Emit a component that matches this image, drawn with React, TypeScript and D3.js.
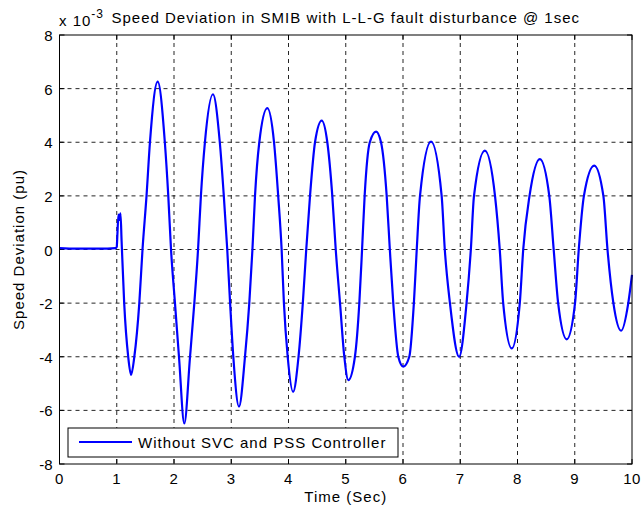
import React from "react";
import * as d3 from "d3";

const xTicks = [0, 1, 2, 3, 4, 5, 6, 7, 8, 9, 10];
const yTicks = [-8, -6, -4, -2, 0, 2, 4, 6, 8];

const timeSec = [
  0, 0.3, 0.7, 0.98, 1.0, 1.01, 1.03, 1.05, 1.065, 1.085, 1.13, 1.2, 1.25, 1.307, 1.394, 1.45,
  1.52, 1.58, 1.715, 1.84, 1.9, 1.948,
  2.017, 2.087, 2.18, 2.28, 2.355, 2.42,
  2.47, 2.54, 2.68, 2.8, 2.87, 2.93,
  2.98, 3.036, 3.135, 3.24, 3.315, 3.37,
  3.415, 3.49, 3.63, 3.747, 3.82, 3.88,
  3.92, 3.986, 4.08, 4.175, 4.25, 4.31,
  4.376, 4.463, 4.58, 4.678, 4.765, 4.825,
  4.9, 4.975, 5.045, 5.16, 5.237, 5.285,
  5.33, 5.42, 5.53, 5.616, 5.715, 5.77,
  5.83, 5.918, 6.005, 6.11, 6.19, 6.24,
  6.297, 6.49, 6.675, 6.73,
  6.82, 6.98, 7.11, 7.185,
  7.24, 7.43, 7.607, 7.69,
  7.75, 7.9, 8.04, 8.1,
  8.21, 8.39, 8.555, 8.632,
  8.71, 8.86, 9.005, 9.07,
  9.16, 9.34, 9.5, 9.572,
  9.675, 9.81, 9.935, 10,
];

const speedDev = [
  0.05, 0.03, 0.03, 0.05, 0.1, 0.5, 1.3, 1.1, 1.35, 0.3, -2, -4, -4.68, -4, -2, 0,
  2, 4, 6.26, 4, 2, 0,
  -2, -4, -6.49, -4, -2, 0,
  2, 4, 5.79, 4, 2, 0,
  -2, -4, -5.86, -4, -2, 0,
  2, 4, 5.27, 4, 2, 0,
  -2, -4, -5.31, -4, -2, 0,
  2, 4, 4.81, 4, 2, 0,
  -2, -4, -4.87, -4, -2, 0,
  2, 4, 4.4, 4, 2, 0,
  -2, -4, -4.37, -4, -2, 0,
  2, 4.02, 2, 0,
  -2, -4.0, -2, 0,
  2, 3.69, 2, 0,
  -2, -3.69, -2, 0,
  2, 3.37, 2, 0,
  -2, -3.35, -2, 0,
  2, 3.13, 2, 0,
  -2, -3.03, -2, -0.95,
];

const titleText = "Speed Deviation in SMIB with L-L-G fault disturbance @ 1sec";
const xLabel = "Time (Sec)";
const yLabel = "Speed Deviation (pu)";
const legendLabel = "Without SVC and PSS Controller";

export default function App() {
  const W = 641, H = 514;
  const left = 59.5, right = 632, top = 35, bottom = 464;
  const x = d3.scaleLinear().domain([0, 10]).range([left, right]);
  const y = d3.scaleLinear().domain([-8, 8]).range([bottom, top]);
  const pts: [number, number][] = timeSec.map((t, i) => [t, speedDev[i]]);
  const line = d3
    .line<[number, number]>()
    .x((d) => x(d[0]))
    .y((d) => y(d[1]))
    .curve(d3.curveMonotoneX);
  const font = "Liberation Sans, Arial, sans-serif";
  const fs = 15;
  const ls = 1;
  return (
    <svg
      width={W}
      height={H}
      style={{ position: "absolute", left: 0, top: 0, background: "#fff" }}
      fontFamily={font}
    >
      <rect x={0} y={0} width={W} height={H} fill="#fff" />
      {xTicks.slice(1, -1).map((t) => (
        <line key={"gx" + t} x1={x(t)} x2={x(t)} y1={top} y2={bottom} stroke="#000" strokeWidth={1} strokeDasharray="4,4" opacity={0.85} />
      ))}
      {yTicks.slice(1, -1).map((v) => (
        <line key={"gy" + v} x1={left} x2={right} y1={y(v)} y2={y(v)} stroke="#000" strokeWidth={1} strokeDasharray="4,4" opacity={0.85} />
      ))}
      {xTicks.map((t) => (
        <g key={"tx" + t}>
          <line x1={x(t)} x2={x(t)} y1={bottom} y2={bottom - 5} stroke="#000" />
          <line x1={x(t)} x2={x(t)} y1={top} y2={top + 5} stroke="#000" />
          <text x={x(t)} y={bottom + 20} textAnchor="middle" fontSize={fs} letterSpacing={0.5} fill="#000">{t}</text>
        </g>
      ))}
      {yTicks.map((v) => (
        <g key={"ty" + v}>
          <line x1={left} x2={left + 5} y1={y(v)} y2={y(v)} stroke="#000" />
          <line x1={right} x2={right - 5} y1={y(v)} y2={y(v)} stroke="#000" />
          <text x={left - 7} y={y(v) + 6} textAnchor="end" fontSize={fs} fill="#000">{v}</text>
        </g>
      ))}
      <path d={line(pts) || ""} fill="none" stroke="#0000ff" strokeWidth={2.2} />
      <rect x={left} y={top} width={right - left} height={bottom - top} fill="none" stroke="#000" strokeWidth={1} />
      <rect x={68} y={428} width={330} height={29} fill="#fff" stroke="#000" strokeWidth={1} />
      <line x1={79} x2={132} y1={442} y2={442} stroke="#0000ff" strokeWidth={2.2} />
      <text x={138} y={448} fontSize={fs} letterSpacing={ls} fill="#000">{legendLabel}</text>
      <text x={59} y={26} fontSize={fs} letterSpacing={ls} fill="#000">
        x 10
        <tspan dy={-8} fontSize={12}>-3</tspan>
      </text>
      <text x={(left + right) / 2} y={23} textAnchor="middle" fontSize={fs} letterSpacing={ls} fill="#000">{titleText}</text>
      <text x={(left + right) / 2} y={502} textAnchor="middle" fontSize={fs} letterSpacing={ls} fill="#000">{xLabel}</text>
      <text transform={`translate(24,${(top + bottom) / 2}) rotate(-90)`} textAnchor="middle" fontSize={fs} letterSpacing={ls} fill="#000">{yLabel}</text>
    </svg>
  );
}
